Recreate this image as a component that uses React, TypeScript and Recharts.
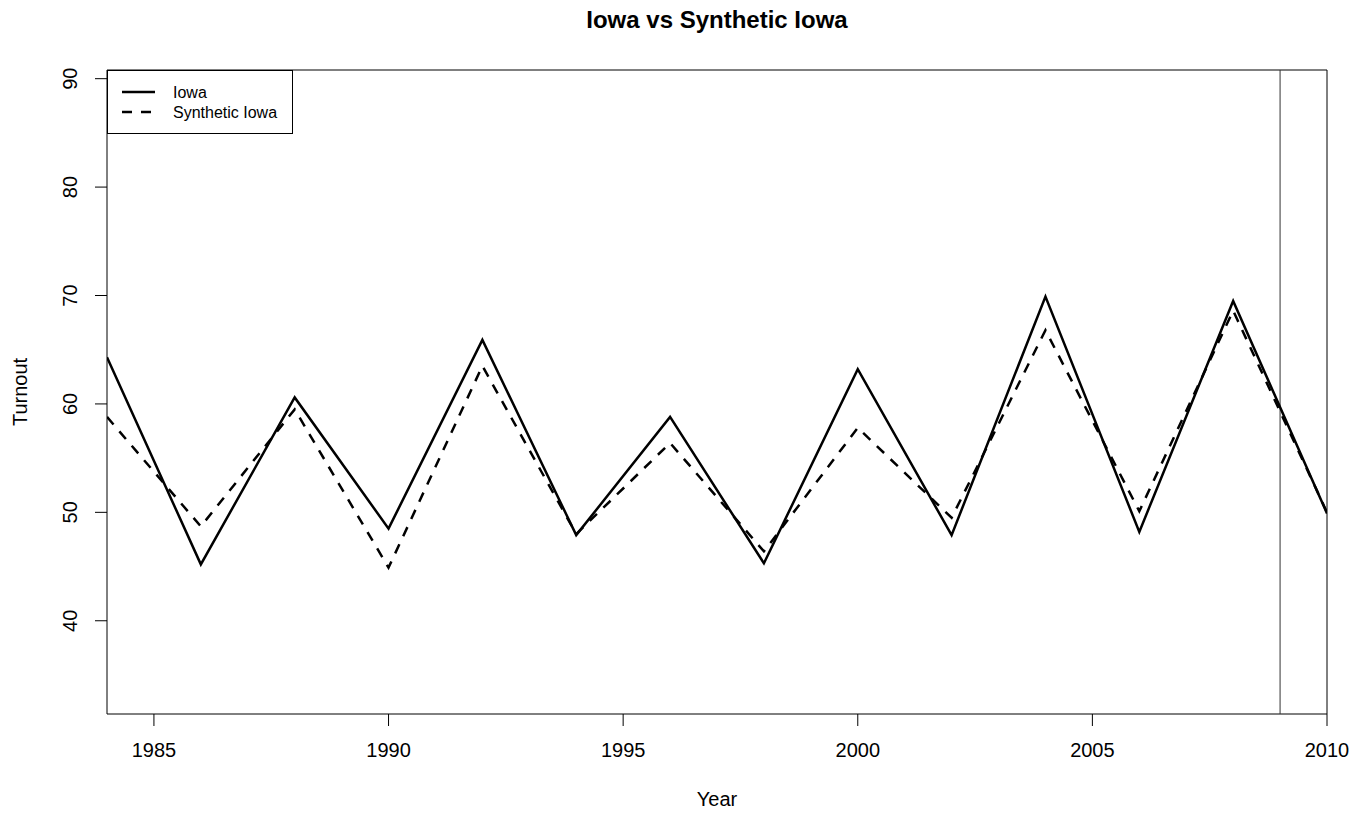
import {
  LineChart,
  Line,
  XAxis,
  YAxis,
  ReferenceLine,
  ReferenceArea,
} from 'recharts';

const years = [1984, 1986, 1988, 1990, 1992, 1994, 1996, 1998, 2000, 2002, 2004, 2006, 2008, 2010];
const iowa = [64.3, 45.2, 60.6, 48.5, 65.9, 47.9, 58.8, 45.3, 63.2, 47.9, 69.9, 48.2, 69.5, 49.9];
const syntheticIowa = [58.8, 48.7, 59.5, 44.9, 63.5, 48.0, 56.4, 46.4, 57.8, 49.5, 66.8, 50.1, 68.6, 50.0];

const xTicks = [1985, 1990, 1995, 2000, 2005, 2010];
const yTicks = [40, 50, 60, 70, 80, 90];
const treatmentYear = 2009;

const data = years.map((year, i) => ({
  year,
  iowa: iowa[i],
  synthetic: syntheticIowa[i],
}));

const FONT = '"Liberation Sans", Arial, Helvetica, sans-serif';

// rotated y tick labels, like R's default las=0
function YTick({ x, y, payload }: any) {
  return (
    <text
      x={x}
      y={y}
      transform={`rotate(-90 ${x} ${y})`}
      textAnchor="middle"
      fontSize={20}
      fill="#000"
      fontFamily={FONT}
    >
      {payload.value}
    </text>
  );
}

// legend drawn as an overlay so it doesn't eat into the plot area
function LegendBox() {
  return (
    <svg width={186} height={64} style={{ position: 'absolute', left: 107, top: 70, display: 'block' }}>
      <rect x={0.5} y={0.5} width={185} height={63} fill="#fff" stroke="#000" strokeWidth={1} />
      <line x1={15} x2={48} y1={22} y2={22} stroke="#000" strokeWidth={2.5} />
      <line x1={15} x2={48} y1={42} y2={42} stroke="#000" strokeWidth={2.5} strokeDasharray="10 9" />
      <text x={66} y={28} fontSize={16} fontFamily={FONT} fill="#000">Iowa</text>
      <text x={66} y={48} fontSize={16} fontFamily={FONT} fill="#000">Synthetic Iowa</text>
    </svg>
  );
}

export default function App() {
  return (
    <div
      style={{
        position: 'absolute',
        left: 0,
        top: 0,
        width: 1365,
        height: 814,
        background: '#fff',
        fontFamily: FONT,
      }}
    >
      <div
        style={{
          position: 'absolute',
          left: 107,
          width: 1220,
          top: 6,
          textAlign: 'center',
          fontSize: 24,
          fontWeight: 'bold',
          lineHeight: '28px',
        }}
      >
        Iowa vs Synthetic Iowa
      </div>
      <div
        style={{
          position: 'absolute',
          left: 107,
          width: 1220,
          top: 787,
          textAlign: 'center',
          fontSize: 20,
          lineHeight: '24px',
        }}
      >
        Year
      </div>
      <div
        style={{
          position: 'absolute',
          left: 20,
          top: 392,
          fontSize: 20,
          lineHeight: '24px',
          transform: 'translate(-50%, -50%) rotate(-90deg)',
          whiteSpace: 'nowrap',
        }}
      >
        Turnout
      </div>

      <LineChart
        width={1365}
        height={814}
        data={data}
        margin={{ top: 70, right: 38, bottom: 0, left: 0 }}
      >
        <XAxis
          dataKey="year"
          type="number"
          domain={[1984, 2010]}
          ticks={xTicks}
          allowDataOverflow
          axisLine={false}
          tickSize={12}
          tickMargin={17}
          tickLine={{ stroke: '#000' }}
          tick={{ fontSize: 20, fill: '#000', fontFamily: FONT }}
          height={100}
          interval={0}
        />
        <YAxis
          type="number"
          domain={[31.4, 90.8]}
          ticks={yTicks}
          allowDataOverflow
          axisLine={false}
          tickSize={12}
          tickMargin={18}
          tickLine={{ stroke: '#000' }}
          tick={<YTick />}
          width={107}
          interval={0}
        />
        <ReferenceArea
          x1={1984}
          x2={2010}
          y1={31.4}
          y2={90.8}
          fill="none"
          fillOpacity={0}
          stroke="#000"
          strokeWidth={1}
          ifOverflow="visible"
        />
        <ReferenceLine x={treatmentYear} stroke="#333" strokeWidth={1} />
        <Line
          type="linear"
          dataKey="iowa"
          name="Iowa"
          stroke="#000"
          strokeWidth={2.5}
          dot={false}
          activeDot={false}
          isAnimationActive={false}
        />
        <Line
          type="linear"
          dataKey="synthetic"
          name="Synthetic Iowa"
          stroke="#000"
          strokeWidth={2.5}
          strokeDasharray="10 9"
          dot={false}
          activeDot={false}
          isAnimationActive={false}
        />
      </LineChart>
      <LegendBox />
    </div>
  );
}
